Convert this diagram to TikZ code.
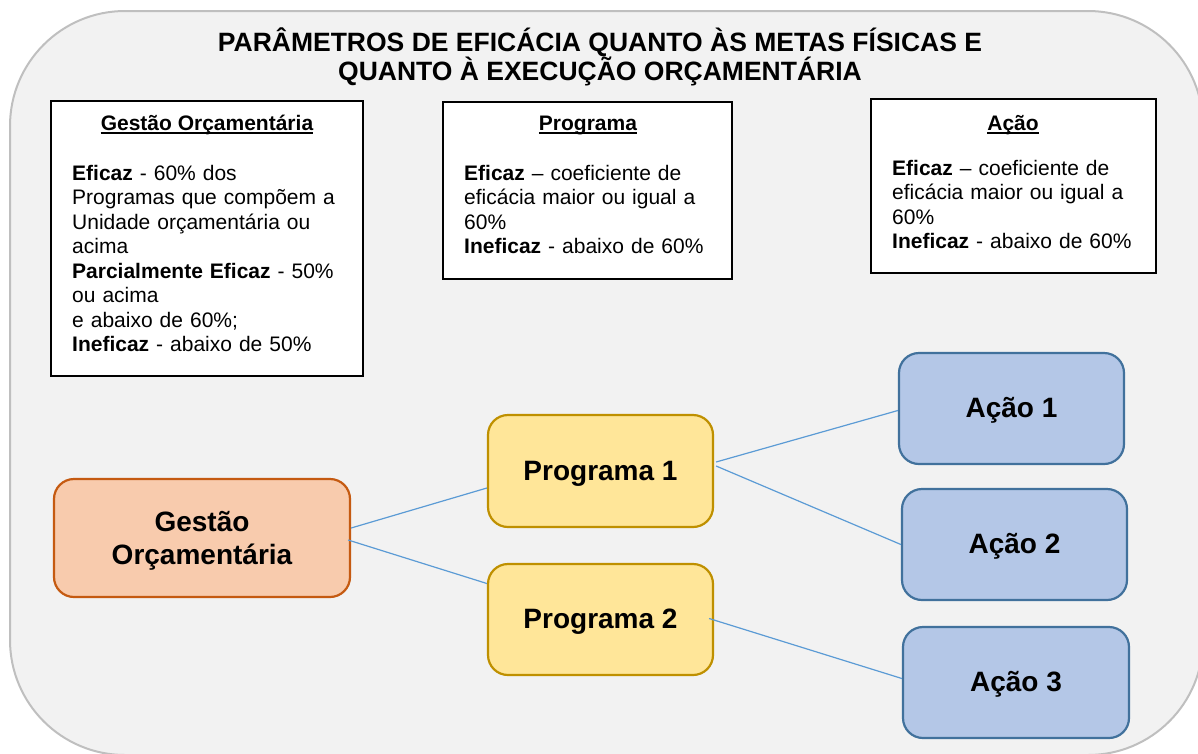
\documentclass[tikz,border=0pt]{standalone}
\usepackage{fontspec}
\setmainfont{Liberation Sans}
\definecolor{bgGray}{HTML}{F2F2F2}
\definecolor{frameGray}{HTML}{BFBFBF}
\definecolor{orFill}{HTML}{F8CBAD}
\definecolor{orLine}{HTML}{C55A11}
\definecolor{goFill}{HTML}{FFE699}
\definecolor{goLine}{HTML}{BF9000}
\definecolor{blFill}{HTML}{B4C7E7}
\definecolor{blLine}{HTML}{41719C}
\definecolor{conn}{HTML}{5B9BD5}
\begin{document}
\begin{tikzpicture}[x=1pt,y=-1pt,
  outer/.style={draw=frameGray,line width=2pt,fill=bgGray,rounded corners=115pt},
  infobox/.style={draw=black,line width=1.5pt,fill=white,inner sep=0pt},
  boxtitle/.style={inner sep=0pt,font=\fontsize{21}{24.5}\selectfont\bfseries},
  bodytext/.style={inner sep=0pt,text width=300pt,align=left,font=\fontsize{21}{24.5}\selectfont},
  uline/.style={line width=1.8pt},
  title/.style={inner sep=0pt,align=center,font=\fontsize{26.5}{29}\selectfont\bfseries},
  diag/.style={rounded corners=20pt,line width=2.2pt,inner sep=0pt,align=center,
    font=\fontsize{28}{33}\selectfont\bfseries},
  gnode/.style={diag,draw=orLine,fill=orFill,text depth=0pt},
  pnode/.style={diag,draw=goLine,fill=goFill,text height=21pt,text depth=3pt},
  anode/.style={diag,draw=blLine,fill=blFill,text height=21pt,text depth=3pt},
  link/.style={draw=conn,line width=1.2pt}
]
\useasboundingbox (0,0) rectangle (1198,753);
\path[outer] (10,11) rectangle (1203,755);

\node[title,anchor=base] (ttl) at (600,80) {PARÂMETROS DE EFICÁCIA QUANTO ÀS METAS FÍSICAS E\\QUANTO À EXECUÇÃO ORÇAMENTÁRIA};

% info boxes
\node[infobox,minimum width=312pt,minimum height=275pt] (gbox) at (207,238.5) {};
\node[boxtitle,anchor=base] (gtit) at (207,130) {Gestão Orçamentária};
\draw[uline] ([yshift=-3pt]gtit.base west) -- ([yshift=-3pt]gtit.base east);
\node[bodytext,anchor=base west] (gbody) at (72,180) {\textbf{Eficaz} - 60\% dos\\Programas que compõem a\\Unidade orçamentária ou\\acima\\\textbf{Parcialmente Eficaz} - 50\%\\ou acima\\e abaixo de 60\%;\\\textbf{Ineficaz} - abaixo de 50\%};

\node[infobox,minimum width=289pt,minimum height=177pt] (pbox) at (587.5,190.5) {};
\node[boxtitle,anchor=base] (ptit) at (588,130) {Programa};
\draw[uline] ([yshift=-3pt]ptit.base west) -- ([yshift=-3pt]ptit.base east);
\node[bodytext,anchor=base west] (pbody) at (464,180) {\textbf{Eficaz} -- coeficiente de\\eficácia maior ou igual a\\60\%\\\textbf{Ineficaz} - abaixo de 60\%};

\node[infobox,minimum width=285pt,minimum height=174pt] (abox) at (1013.5,186) {};
\node[boxtitle,anchor=base] (atit) at (1013,130) {Ação};
\draw[uline] ([yshift=-3pt]atit.base west) -- ([yshift=-3pt]atit.base east);
\node[bodytext,anchor=base west] (abody) at (892,175) {\textbf{Eficaz} -- coeficiente de\\eficácia maior ou igual a\\60\%\\\textbf{Ineficaz} - abaixo de 60\%};

% diagram nodes
\node[gnode,minimum width=296pt,minimum height=118pt] (g) at (202,538) {Gestão\\Orçamentária};
\node[pnode,minimum width=225pt,minimum height=112pt] (p1) at (600.5,471) {Programa 1};
\node[pnode,minimum width=225pt,minimum height=111pt] (p2) at (600.5,619.5) {Programa 2};
\node[anode,minimum width=225pt,minimum height=111pt] (a1) at (1011.5,408.5) {Ação 1};
\node[anode,minimum width=225pt,minimum height=111pt] (a2) at (1014.5,544.5) {Ação 2};
\node[anode,minimum width=226pt,minimum height=111pt] (a3) at (1016,682.5) {Ação 3};

% connectors
\draw[link] ([yshift=10pt]g.east) -- ([yshift=-17pt]p1.west);
\draw[link] ([xshift=-3pt,yshift=-2pt]g.east) -- ([yshift=36pt]p2.west);
\draw[link] ([xshift=2pt,yshift=9pt]p1.east) -- ([yshift=-2pt]a1.west);
\draw[link] ([xshift=2pt,yshift=5pt]p1.east) -- (a2.west);
\draw[link] ([xshift=-5pt,yshift=1pt]p2.east) -- ([yshift=4pt]a3.west);
\end{tikzpicture}
\end{document}
